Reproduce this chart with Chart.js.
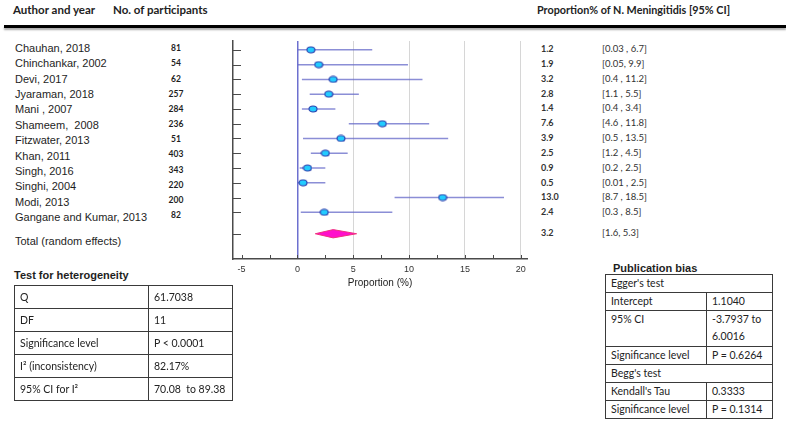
<!DOCTYPE html>
<html>
<head>
<meta charset="utf-8">
<script src="https://cdn.jsdelivr.net/npm/chart.js@4.4.1/dist/chart.umd.min.js"></script>
<style>
  html, body { margin: 0; padding: 0; background: #fff; }
  #page { position: relative; width: 786px; height: 424px; overflow: hidden; color: #1e1e1e; }
  .abs { position: absolute; white-space: pre; }
  .hdr { font: bold 11.5px Lato, "Open Sans", sans-serif; color: #222; }
  .rule { position: absolute; left: 4px; right: 0; top: 25px; height: 3px; background: #000; box-shadow: 0 2px 2px rgba(0,0,0,0.35); }
  .name { font: 11px "Liberation Sans", Arial, sans-serif; line-height: 14px; }
  .num { font: bold 8.5px Lato, sans-serif; line-height: 10px; width: 30px; text-align: center; }
  .est { font: bold 9px Lato, sans-serif; line-height: 10px; color: #333; }
  .ci { font: 9.5px Lato, sans-serif; line-height: 10px; color: #333; }
  .ttl { font: bold 11px "Liberation Sans", Arial, sans-serif; }
  table { position: absolute; border-collapse: collapse; font: 10.5px Lato, sans-serif; color: #222; table-layout: fixed; }
  td { border: 1px solid #3a3a3a; padding: 0 5px; vertical-align: middle; white-space: nowrap; overflow: hidden; }
  #het td { height: 22px; }
  #pub td { height: 17px; vertical-align: middle; line-height: 17px; }
  #pub td.tall { vertical-align: top; }
  #chartBox { position: absolute; left: 228px; top: 36px; width: 304px; height: 256px; }
</style>
</head>
<body>
<div id="page">
  <div class="abs hdr" style="left:13px; top:3px;">Author and year</div>
  <div class="abs hdr" style="left:113px; top:3px;">No. of participants</div>
  <div class="abs hdr" style="left:537px; top:3px; font-size:10.8px;">Proportion% of N. Meningitidis [95% CI]</div>
  <div class="rule"></div>
  <div id="chartBox"><canvas id="forestCanvas"></canvas></div>
  <div id="labels"></div>

  <div class="abs ttl" style="left:14px; top:269px;">Test for heterogeneity</div>
  <table id="het" style="left:14px; top:285px; width:218px;">
    <colgroup><col style="width:134px;"><col style="width:84px;"></colgroup>
    <tr><td>Q</td><td>61.7038</td></tr>
    <tr><td>DF</td><td>11</td></tr>
    <tr><td>Significance level</td><td>P &lt; 0.0001</td></tr>
    <tr><td>I² (inconsistency)</td><td>82.17%</td></tr>
    <tr><td>95% CI for I²</td><td>70.08 &nbsp;to 89.38</td></tr>
  </table>

  <div class="abs ttl" style="left:613px; top:262px;">Publication bias</div>
  <table id="pub" style="left:605px; top:274px; width:167px;">
    <colgroup><col style="width:101px;"><col style="width:66px;"></colgroup>
    <tr><td colspan="2">Egger's test</td></tr>
    <tr><td>Intercept</td><td>1.1040</td></tr>
    <tr><td class="tall" style="height:35px;">95% CI</td><td class="tall">-3.7937 to<br>6.0016</td></tr>
    <tr><td>Significance level</td><td>P = 0.6264</td></tr>
    <tr><td colspan="2">Begg's test</td></tr>
    <tr><td>Kendall's Tau</td><td>0.3333</td></tr>
    <tr><td>Significance level</td><td>P = 0.1314</td></tr>
  </table>
</div>

<script>
// Studies, top to bottom
const studies = ["Chauhan, 2018", "Chinchankar, 2002", "Devi, 2017", "Jyaraman, 2018", "Mani , 2007",
  "Shameem,  2008", "Fitzwater, 2013", "Khan, 2011", "Singh, 2016", "Singhi, 2004", "Modi, 2013",
  "Gangane and Kumar, 2013"];
const participants = [81, 54, 62, 257, 284, 236, 51, 403, 343, 220, 200, 82];
const estimates = [1.2, 1.9, 3.2, 2.8, 1.4, 7.6, 3.9, 2.5, 0.9, 0.5, 13.0, 2.4];
const ciLow = [0.03, 0.05, 0.4, 1.1, 0.4, 4.6, 0.5, 1.2, 0.2, 0.01, 8.7, 0.3];
const ciHigh = [6.7, 9.9, 11.2, 5.5, 3.4, 11.8, 13.5, 4.5, 2.5, 2.5, 18.5, 8.5];
const ciLabels = ["[0.03 , 6.7]", "[0.05, 9.9]", "[0.4 , 11.2]", "[1.1 , 5.5]", "[0.4 , 3.4]",
  "[4.6 , 11.8]", "[0.5 , 13.5]", "[1.2 , 4.5]", "[0.2 , 2.5]", "[0.01 , 2.5]", "[8.7 , 18.5]",
  "[0.3 , 8.5]"];

// Pooled estimate (random effects)
const totalLabel = "Total (random effects)";
const totalEst = 3.2, totalLow = 1.6, totalHigh = 5.3;
const totalCiLabel = "[1.6, 5.3]";

const xTicks = [-5, -2.5, 0, 2.5, 5, 7.5, 10, 12.5, 15, 17.5, 20];

const TOTAL_ROW = 13.45;     // pooled row sits a little below the last study
const DIAMOND_HALF = 0.28;   // half height of the diamond, in row units

// --- text columns --------------------------------------------------------
const labelsEl = document.getElementById("labels");
function addText(cls, text, left, centerY, lh) {
  const d = document.createElement("div");
  d.className = "abs " + cls;
  d.textContent = text;
  d.style.left = left + "px";
  d.style.top = (centerY - lh / 2) + "px";
  labelsEl.appendChild(d);
}
studies.forEach((s, i) => addText("name", s, 15, 47.7 + i * 15.4, 14));
addText("name", totalLabel, 15, 240.5, 14);
participants.forEach((n, i) => addText("num", String(n), 161, 48.3 + i * 15.15, 10));
estimates.forEach((v, i) => {
  addText("est", v.toFixed(1), 541, 49 + i * 14.84, 10);
  addText("ci", ciLabels[i], 602, 49 + i * 14.84, 10);
});
addText("est", totalEst.toFixed(1), 541, 233, 10);
addText("ci", totalCiLabel, 602, 233, 10);

// --- forest plot ---------------------------------------------------------
const ciSegments = [];
estimates.forEach((v, i) => {
  ciSegments.push({ x: ciLow[i], y: i + 1 }, { x: ciHigh[i], y: i + 1 }, { x: null, y: null });
});
const studyPoints = estimates.map((v, i) => ({ x: v, y: i + 1 }));
const diamond = [
  { x: totalLow, y: TOTAL_ROW }, { x: totalEst, y: TOTAL_ROW - DIAMOND_HALF },
  { x: totalHigh, y: TOTAL_ROW }, { x: totalEst, y: TOTAL_ROW + DIAMOND_HALF },
  { x: totalLow, y: TOTAL_ROW },
];

// oval marker like the original software draws
function ovalMarker() {
  const c = document.createElement("canvas");
  c.width = 10; c.height = 8;
  const g = c.getContext("2d");
  g.beginPath();
  g.ellipse(5, 4, 4, 3, 0, 0, Math.PI * 2);
  g.fillStyle = "#22ccff";
  g.fill();
  g.lineWidth = 1.1;
  g.strokeStyle = "#2a3fae";
  g.stroke();
  return c;
}

const inwardTicks = {
  id: "inwardTicks",
  afterDraw(chart) {
    const { ctx, chartArea, scales: { x, y } } = chart;
    ctx.save();
    ctx.strokeStyle = "#4a4a4a";
    ctx.lineWidth = 1;
    const rows = estimates.map((v, i) => i + 1).concat([TOTAL_ROW]);
    for (const r of rows) {
      const py = Math.round(y.getPixelForValue(r)) + 0.5;
      ctx.beginPath();
      ctx.moveTo(chartArea.left, py);
      ctx.lineTo(chartArea.left + 8, py);
      ctx.stroke();
    }
    for (const t of x.ticks) {
      const px = Math.round(x.getPixelForValue(t.value)) + 0.5;
      ctx.beginPath();
      ctx.moveTo(px, chartArea.bottom);
      ctx.lineTo(px, chartArea.bottom - 4);
      ctx.stroke();
    }
    ctx.restore();
  },
};

new Chart(document.getElementById("forestCanvas"), {
  type: "scatter",
  data: {
    datasets: [
      {
        data: studyPoints,
        pointStyle: ovalMarker(),
        order: 0,
      },
      {
        data: ciSegments,
        showLine: true,
        spanGaps: false,
        borderColor: "rgba(100,104,200,0.75)",
        borderWidth: 1.5,
        pointRadius: 0,
        order: 1,
      },
      {
        data: diamond,
        showLine: true,
        fill: "shape",
        backgroundColor: "#ff0fcc",
        borderColor: "#f0307f",
        borderWidth: 1,
        pointRadius: 0,
        order: 2,
      },
    ],
  },
  options: {
    responsive: true,
    maintainAspectRatio: false,
    animation: false,
    layout: { padding: { left: 4, top: 4, right: 4, bottom: 0 } },
    plugins: { legend: { display: false }, tooltip: { enabled: false } },
    scales: {
      x: {
        type: "linear",
        min: -5.77,
        max: 20.56,
        afterBuildTicks: (scale) => { scale.ticks = xTicks.map(v => ({ value: v })); },
        afterFit: (scale) => { scale.height = 33; },
        ticks: {
          color: "#333",
          font: { family: "Liberation Sans", size: 9 },
          padding: 5,
          maxRotation: 0,
          autoSkip: false,
          callback: (v) => (v % 5 === 0 ? String(v) : ""),
        },
        grid: {
          drawTicks: false,
          color: (c) => {
            const v = c.tick && c.tick.value;
            if (v === 0) return "#6d70cf";
            if (v > 0 && v % 5 === 0) return "#d6d6d6";
            return "rgba(0,0,0,0)";
          },
          lineWidth: (c) => (c.tick && c.tick.value === 0 ? 1.5 : 1),
        },
        border: { color: "#4a4a4a", width: 1.5 },
        title: {
          display: true,
          text: "Proportion (%)",
          color: "#222",
          font: { family: "Liberation Sans", size: 10 },
          padding: { top: 2, bottom: 3 },
        },
      },
      y: {
        type: "linear",
        reverse: true,
        min: 0.4,
        max: 15.16,
        afterFit: (scale) => { scale.width = 0; },
        ticks: { display: false },
        grid: { display: false },
        border: { color: "#4a4a4a", width: 1.5 },
      },
    },
  },
  plugins: [inwardTicks],
});
</script>
</body>
</html>
